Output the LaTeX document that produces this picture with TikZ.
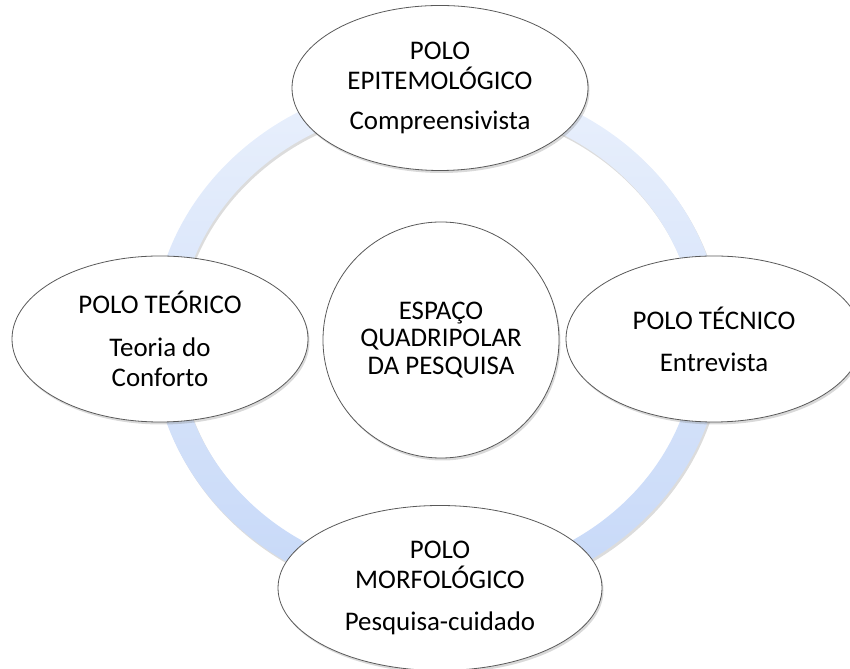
\documentclass[tikz,border=0pt]{standalone}
\usepackage{fontspec}
\setmainfont{Carlito}
\usetikzlibrary{shapes.geometric,shadows}
\definecolor{anelclaro}{HTML}{E9F0FC}
\definecolor{anelescuro}{HTML}{C6D8F8}
\begin{document}
\begin{tikzpicture}[x=1bp,y=1bp,
        pole/.style={ellipse,draw=black!65,line width=.8bp,fill=white,inner sep=0pt,align=center,
            font=\fontsize{27}{30}\selectfont,
            drop shadow={shadow xshift=1.5bp,shadow yshift=-2.5bp,opacity=.3}},
        hub/.style={pole,circle,minimum size=236bp,font=\fontsize{27}{28}\selectfont}]
    \useasboundingbox (0,0) rectangle (850,669);
    % anel ao fundo
    \coordinate (c) at (437,329);
    \fill[black!45,opacity=.3,even odd rule] ([shift={(1.5,-2.5)}]c) ellipse [x radius=285,y radius=261]
        ([shift={(1.5,-2.5)}]c) ellipse [x radius=259,y radius=235];
    \shade[top color=anelclaro,bottom color=anelescuro,even odd rule] (c) ellipse [x radius=285,y radius=261]
        (c) ellipse [x radius=259,y radius=235];
    % os quatro polos e o centro
    \node[hub] (espaco) at (441,329) {ESPAÇO\\QUADRIPOLAR\\DA PESQUISA};
    \node[pole,minimum width=296bp,minimum height=165bp] (epist) at (440,581) {POLO\\EPITEMOLÓGICO\\[11bp]Compreensivista};
    \node[pole,minimum width=296bp,minimum height=166bp] (teor) at (160,330) {POLO TEÓRICO\\[13bp]Teoria do\\Conforto};
    \node[pole,minimum width=296bp,minimum height=166bp] (tecn) at (714,330) {POLO TÉCNICO\\[12bp]Entrevista};
    \node[pole,minimum width=324bp,minimum height=165bp] (morf) at (440,81) {POLO\\MORFOLÓGICO\\[13bp]Pesquisa-cuidado};
\end{tikzpicture}
\end{document}
